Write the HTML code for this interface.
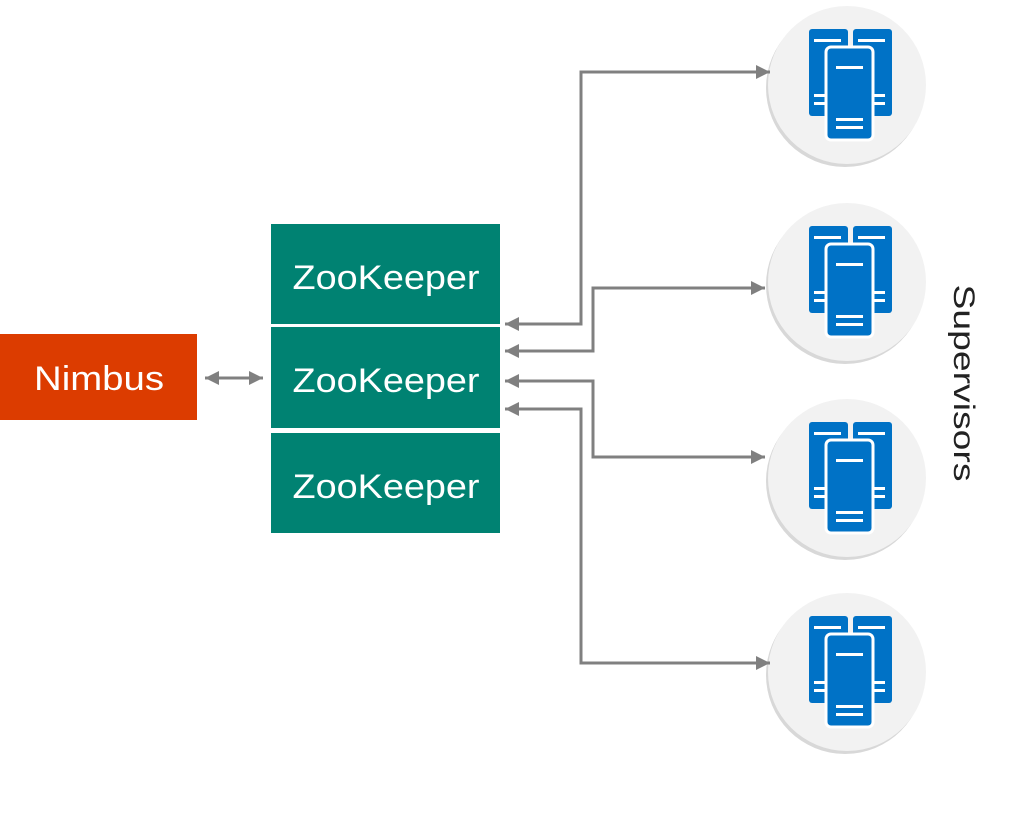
<!DOCTYPE html>
<html><head><meta charset="utf-8"><style>html,body{margin:0;padding:0;background:#fff}svg{display:block}</style></head>
<body>
<svg width="1011" height="821" viewBox="0 0 1011 821" xmlns="http://www.w3.org/2000/svg" font-family="Liberation Sans, sans-serif">
<defs>
<marker id="ah" markerWidth="14" markerHeight="14" refX="14" refY="7" orient="auto-start-reverse" markerUnits="userSpaceOnUse">
<path d="M0,0 L14,7 L0,14 Z" fill="#808080"/></marker>
<g id="srv">
<circle cx="-2" cy="3" r="79" fill="#d8d8d8"/>
<circle cx="0" cy="0" r="79" fill="#f2f2f2"/>
<rect x="-38" y="-56" width="39" height="87" rx="3" fill="#0072c6"/>
<rect x="6" y="-56" width="39" height="87" rx="3" fill="#0072c6"/>
<rect x="-33" y="-46" width="27" height="3" fill="#fff"/>
<rect x="11" y="-46" width="27" height="3" fill="#fff"/>
<rect x="-33" y="9" width="27" height="3" fill="#fff"/><rect x="-33" y="17" width="27" height="3" fill="#fff"/>
<rect x="11" y="9" width="27" height="3" fill="#fff"/><rect x="11" y="17" width="27" height="3" fill="#fff"/>
<rect x="-21" y="-38" width="47" height="93" rx="5" fill="#0072c6" stroke="#fff" stroke-width="3"/>
<rect x="-11" y="-19" width="27" height="3" fill="#fff"/>
<rect x="-11" y="33" width="27" height="3" fill="#fff"/><rect x="-11" y="41" width="27" height="3" fill="#fff"/>
</g>
</defs>
<use href="#srv" x="847" y="85"/>
<use href="#srv" x="847" y="282"/>
<use href="#srv" x="847" y="478"/>
<use href="#srv" x="847" y="672"/>

<rect x="0" y="334" width="197" height="86" fill="#dc3c00"/>
<text x="99" y="390" fill="#fff" font-size="34" text-anchor="middle" textLength="130" lengthAdjust="spacingAndGlyphs">Nimbus</text>

<rect x="271" y="224" width="229" height="100" fill="#008272"/>
<rect x="271" y="327" width="229" height="101" fill="#008272"/>
<rect x="271" y="433" width="229" height="100" fill="#008272"/>
<text x="386" y="289" fill="#fff" font-size="34" text-anchor="middle" textLength="187" lengthAdjust="spacingAndGlyphs">ZooKeeper</text>
<text x="386" y="392" fill="#fff" font-size="34" text-anchor="middle" textLength="187" lengthAdjust="spacingAndGlyphs">ZooKeeper</text>
<text x="386" y="498" fill="#fff" font-size="34" text-anchor="middle" textLength="187" lengthAdjust="spacingAndGlyphs">ZooKeeper</text>

<g fill="none" stroke="#808080" stroke-width="3">
<line x1="205" y1="378" x2="263" y2="378" marker-start="url(#ah)" marker-end="url(#ah)"/>
<polyline points="505,324 581,324 581,72 770,72" marker-start="url(#ah)" marker-end="url(#ah)"/>
<polyline points="505,351 593,351 593,288 765,288" marker-start="url(#ah)" marker-end="url(#ah)"/>
<polyline points="505,381 593,381 593,457 765,457" marker-start="url(#ah)" marker-end="url(#ah)"/>
<polyline points="505,409 581,409 581,663 770,663" marker-start="url(#ah)" marker-end="url(#ah)"/>
</g>

<text transform="translate(954,383) rotate(90)" fill="#222" font-size="30" text-anchor="middle" textLength="197" lengthAdjust="spacingAndGlyphs">Supervisors</text>
</svg>
</body></html>
